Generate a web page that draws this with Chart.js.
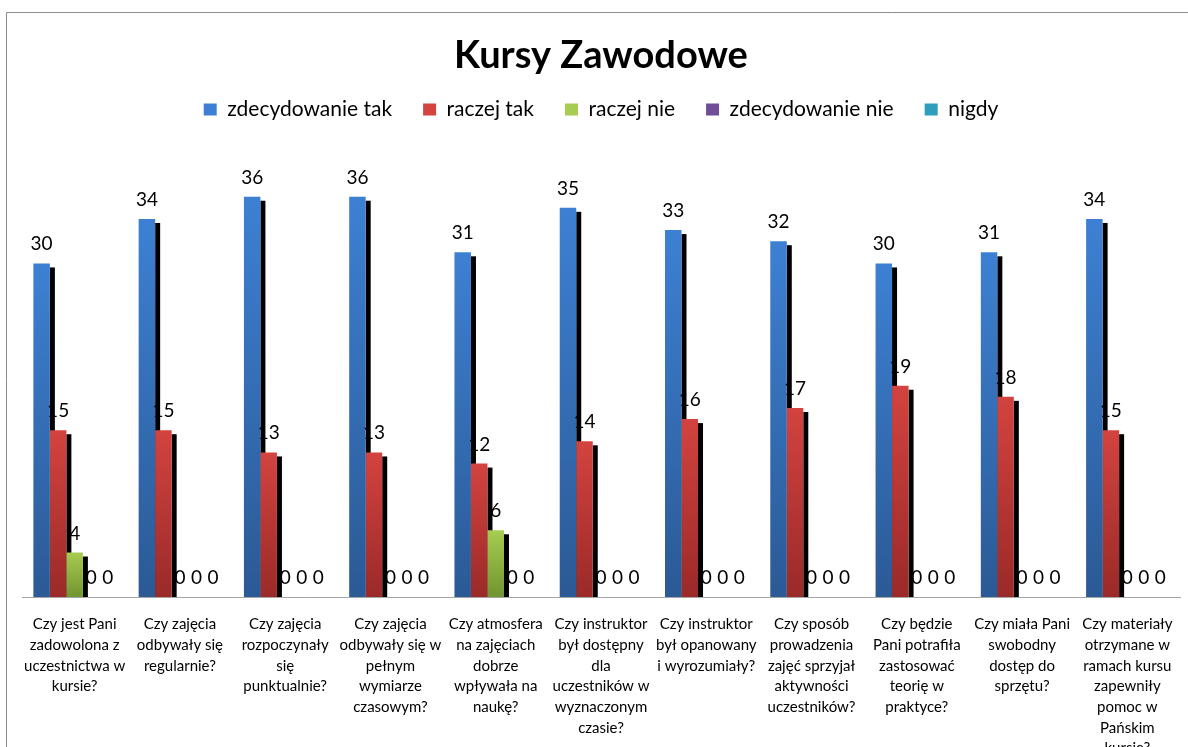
<!DOCTYPE html>
<html>
<head>
<meta charset="utf-8">
<script src="https://cdn.jsdelivr.net/npm/chart.js@4.4.1/dist/chart.umd.min.js"></script>
<style>
  html, body { margin: 0; padding: 0; background: #fff; overflow: hidden; }
  #wrap { width: 1188px; height: 747px; }
</style>
</head>
<body>
<div id="wrap"><canvas id="kursyChart" width="1188" height="747"></canvas></div>
<script>
// pytania (oś X), podzielone na linie jak w oryginale
const questions = [
  ['Czy jest Pani', 'zadowolona z', 'uczestnictwa w', 'kursie?'],
  ['Czy zajęcia', 'odbywały się', 'regularnie?'],
  ['Czy zajęcia', 'rozpoczynały', 'się', 'punktualnie?'],
  ['Czy zajęcia', 'odbywały się w', 'pełnym', 'wymiarze', 'czasowym?'],
  ['Czy atmosfera', 'na zajęciach', 'dobrze', 'wpływała na', 'naukę?'],
  ['Czy instruktor', 'był dostępny', 'dla', 'uczestników w', 'wyznaczonym', 'czasie?'],
  ['Czy instruktor', 'był opanowany', 'i wyrozumiały?'],
  ['Czy sposób', 'prowadzenia', 'zajęć sprzyjał', 'aktywności', 'uczestników?'],
  ['Czy będzie', 'Pani potrafiła', 'zastosować', 'teorię w', 'praktyce?'],
  ['Czy miała Pani', 'swobodny', 'dostęp do', 'sprzętu?'],
  ['Czy materiały', 'otrzymane w', 'ramach kursu', 'zapewniły', 'pomoc w', 'Pańskim', 'kursie?']
];

const seriesNames = ['zdecydowanie tak', 'raczej tak', 'raczej nie', 'zdecydowanie nie', 'nigdy'];

const zdecydowanieTak = [30, 34, 36, 36, 31, 35, 33, 32, 30, 31, 34];
const raczejTak       = [15, 15, 13, 13, 12, 14, 16, 17, 19, 18, 15];
const raczejNie       = [4, 0, 0, 0, 6, 0, 0, 0, 0, 0, 0];
const zdecydowanieNie = [0, 0, 0, 0, 0, 0, 0, 0, 0, 0, 0];
const nigdy           = [0, 0, 0, 0, 0, 0, 0, 0, 0, 0, 0];

// [góra, dół, legenda]
const colours = [
  ['#3D80D3', '#2B5A95', '#3671BA'],
  ['#D3433F', '#9A2A28', '#C03A37'],
  ['#A6CC51', '#71952F', '#8DB242'],
  ['#8161A9', '#5C3E80', '#6F4E97'],
  ['#3AB2D2', '#22839E', '#2F9EBD']
];

function barFill(idx) {
  return function (c) {
    const col = colours[idx];
    if (c.type !== 'data' || !c.chart.chartArea) return col[2];
    const y = c.chart.scales.y;
    const top = y.getPixelForValue(c.raw);
    const base = y.getPixelForValue(0);
    if (base - top < 1) return col[2];
    const g = c.chart.ctx.createLinearGradient(0, top, 0, base);
    g.addColorStop(0, col[0]);
    g.addColorStop(1, col[1]);
    return g;
  };
}

const frame = {
  id: 'frame',
  beforeDraw(chart) {
    const ctx = chart.ctx;
    ctx.save();
    ctx.fillStyle = '#fff';
    ctx.fillRect(0, 0, chart.width, chart.height);
    ctx.strokeStyle = '#8c8c8c';
    ctx.lineWidth = 1;
    ctx.beginPath();
    ctx.moveTo(6.5, chart.height);
    ctx.lineTo(6.5, 12.5);
    ctx.lineTo(chart.width, 12.5);
    ctx.stroke();
    ctx.restore();
  }
};

// czarny "cień" po prawej stronie słupka
const barShadow = {
  id: 'barShadow',
  beforeDatasetsDraw(chart) {
    const ctx = chart.ctx;
    ctx.save();
    ctx.fillStyle = '#000';
    chart.data.datasets.forEach((ds, i) => {
      chart.getDatasetMeta(i).data.forEach(bar => {
        const p = bar.getProps(['x', 'y', 'base', 'width'], true);
        const h = p.base - p.y - 4;
        if (h > 0) ctx.fillRect(p.x + p.width / 2, p.y + 4, 5, h);
      });
    });
    ctx.restore();
  }
};

const valueLabels = {
  id: 'valueLabels',
  afterDatasetsDraw(chart) {
    const ctx = chart.ctx;
    ctx.save();
    ctx.font = '19px Lato';
    ctx.fillStyle = '#000';
    ctx.textAlign = 'center';
    ctx.textBaseline = 'alphabetic';
    chart.data.datasets.forEach((ds, i) => {
      chart.getDatasetMeta(i).data.forEach((bar, j) => {
        const p = bar.getProps(['x', 'y'], true);
        ctx.fillText(String(ds.data[j]), p.x, p.y - 13);
      });
    });
    ctx.restore();
  }
};

const allSeries = [zdecydowanieTak, raczejTak, raczejNie, zdecydowanieNie, nigdy];

const ctx = document.getElementById('kursyChart').getContext('2d');
const chart = new Chart(ctx, {
  type: 'bar',
  data: {
    labels: questions,
    datasets: allSeries.map((vals, i) => ({
      label: seriesNames[i],
      data: vals,
      backgroundColor: barFill(i),
      borderWidth: 0,
      categoryPercentage: 0.784,
      barPercentage: 1.0
    }))
  },
  options: {
    responsive: false,
    animation: false,
    devicePixelRatio: 1,
    layout: { padding: { left: 22, right: 8, top: 0, bottom: 0 } },
    plugins: {
      title: {
        display: true,
        text: 'Kursy Zawodowe',
        color: '#000',
        font: { family: 'Lato', size: 38, weight: 'bold', lineHeight: 1.0 },
        padding: { top: 37, bottom: -7 }
      },
      legend: {
        display: true,
        position: 'top',
        labels: {
          color: '#000',
          font: { family: 'Lato', size: 21 },
          boxWidth: 13,
          boxHeight: 12,
          padding: 31
        }
      },
      tooltip: { enabled: false }
    },
    scales: {
      x: {
        grid: { display: false },
        border: { display: true, color: '#a6a6a6', width: 1 },
        ticks: {
          color: '#000',
          font: { family: 'Lato', size: 15, lineHeight: 1.38 },
          padding: 9,
          maxRotation: 0,
          autoSkip: false
        },
        afterFit(scale) { scale.height = 150; }
      },
      y: {
        display: false,
        min: 0,
        max: 42
      }
    }
  },
  plugins: [frame, barShadow, valueLabels]
});
</script>
</body>
</html>
